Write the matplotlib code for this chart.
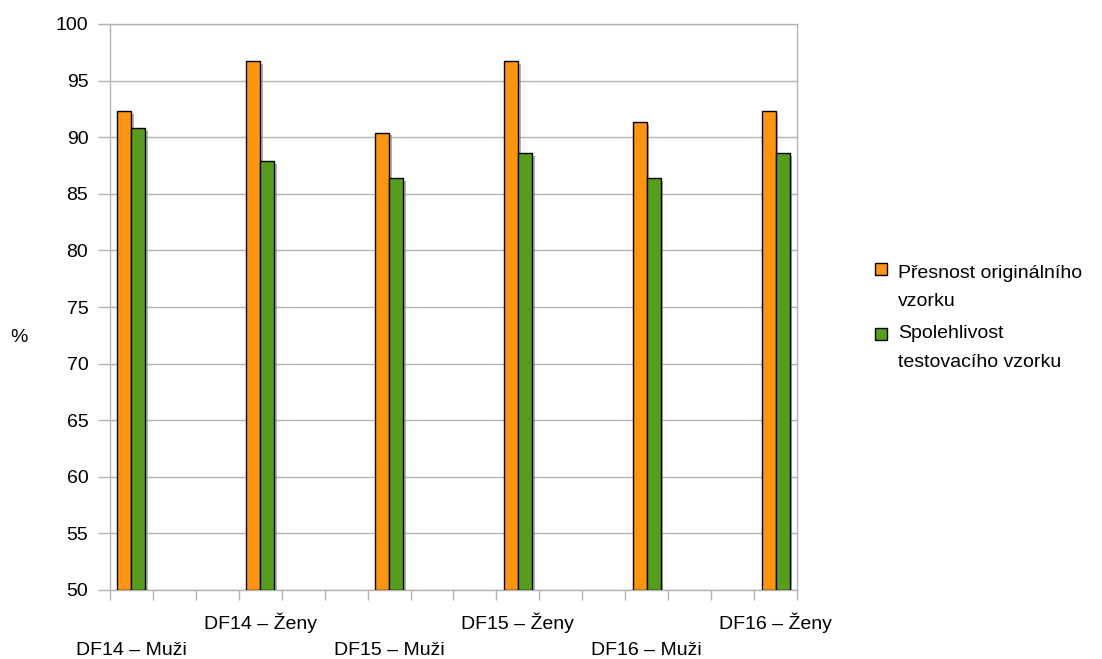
import numpy as np
import matplotlib
matplotlib.use("Agg")
import matplotlib.pyplot as plt
from matplotlib.patches import Rectangle
import matplotlib.patheffects as pe

plt.rcParams['font.family'] = ['Liberation Sans', 'DejaVu Sans']

# 16 category rows, only every third one carries data (as in the source sheet)
categories = ["DF14 – Muži", "", "", "DF14 – Ženy", "", "",
              "DF15 – Muži", "", "", "DF15 – Ženy", "", "",
              "DF16 – Muži", "", "", "DF16 – Ženy"]
presnost = [92.3, None, None, 96.7, None, None, 90.4, None, None,
            96.7, None, None, 91.3, None, None, 92.3]
spolehlivost = [90.8, None, None, 87.9, None, None, 86.4, None, None,
                88.6, None, None, 86.4, None, None, 88.6]
series_names = ["Přesnost originálního\nvzorku", "Spolehlivost\ntestovacího vzorku"]
colors = ["#ff950e", "#579d1c"]
yticks = list(range(50, 101, 5))

grid_c = "#b3b3b3"
fs = 14

fig = plt.figure(figsize=(11.02, 6.59), dpi=100)
W, H = 1102, 659
ax = fig.add_axes([110 / W, 1 - 590 / H, (797 - 110) / W, (590 - 24) / H])

x = np.arange(len(categories))
p = np.array([np.nan if v is None else v for v in presnost], dtype=float)
s = np.array([np.nan if v is None else v for v in spolehlivost], dtype=float)
bw = 14 / 43
shadow = [pe.SimplePatchShadow(offset=(2, -2), shadow_rgbFace="#808080", alpha=0.6), pe.Normal()]
for vals, off, c in [(p, -bw / 2, colors[0]), (s, bw / 2, colors[1])]:
    m = ~np.isnan(vals)
    bars = ax.bar(x[m] + off, vals[m] - 50, bottom=50, width=bw, color=c,
                  edgecolor="black", linewidth=1, zorder=3)
    for b in bars:
        b.set_path_effects(shadow)

ax.set_xlim(-0.5, len(categories) - 0.5)
ax.set_ylim(50, 100)
ax.set_yticks(yticks)
ax.yaxis.grid(True, color=grid_c, linewidth=1)
ax.set_axisbelow(True)
for sp in ax.spines.values():
    sp.set_color(grid_c)
    sp.set_linewidth(1)

ax.tick_params(axis='y', length=8.6, width=1, color=grid_c, labelsize=fs, pad=7)
ax.set_xticks(np.arange(len(categories) + 1) - 0.5)
ax.set_xticklabels([])
ax.tick_params(axis='x', which='major', length=7, width=1, color=grid_c)
ax.set_xticks(x, minor=True)
ax.set_xticklabels(categories, minor=True, fontsize=fs)
ax.tick_params(axis='x', which='minor', length=0)
for i, t in enumerate(ax.xaxis.get_minor_ticks()):
    t.set_pad(37.5 if i % 2 == 0 else 16.5)

fig.text(19 / W, 1 - 337 / H, "%", fontsize=fs, ha='center', va='center')

# legend
sq_top = [263, 328]
baselines = [[278, 306], [338, 367]]
for name, c, ty, bl in zip(series_names, colors, sq_top, baselines):
    fig.add_artist(Rectangle((875 / W, 1 - (ty + 12) / H), 12 / W, 12 / H,
                             facecolor=c, edgecolor="black", linewidth=1,
                             transform=fig.transFigure))
    for line, b in zip(name.split("\n"), bl):
        fig.text(898 / W, 1 - b / H, line, fontsize=fs,
                 ha='left', va='baseline')

fig.savefig("out.png", dpi=100)
